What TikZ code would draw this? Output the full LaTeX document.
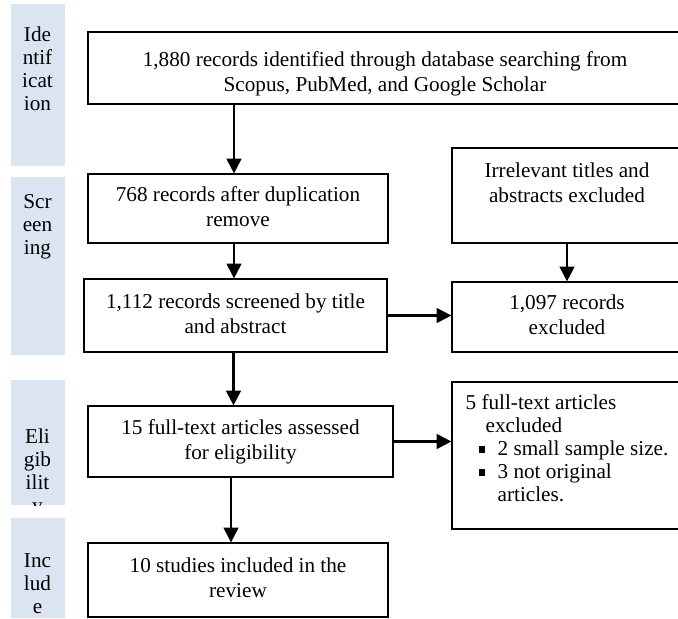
\documentclass[tikz,border=0pt]{standalone}
\usepackage{fontspec}
\setmainfont{Liberation Serif}
\usetikzlibrary{arrows.meta}
\definecolor{barblue}{HTML}{DBE5F1}
\newcommand\fsm{\fontsize{15.9}{18.75}\selectfont}
\newcommand\fsn{\fontsize{15.9}{17.25}\selectfont}
\newcommand\bul{\rule[2pt]{5pt}{5pt}}
\tikzset{
  box/.style={draw=black, line width=0.9pt, align=center, inner sep=0pt, font=\fsm},
  arr/.style={line width=1.6pt, -{Triangle[length=11pt,width=11pt]}},
  bar/.style={fill=barblue, draw=none, inner sep=0pt},
  bartext/.style={align=center, anchor=north, inner sep=0pt, font=\fsn},
}
\begin{document}
\begin{tikzpicture}[x=0.75pt,y=-0.75pt]
\useasboundingbox (0,0) rectangle (678,618);
\clip (0,0) rectangle (678,618);
% side bars
\node[bar, minimum width=40.5pt, minimum height=121.5pt] (b1) at (37.5,85) {};
\node[bar, minimum width=40.5pt, minimum height=133.5pt] (b2) at (37.5,266) {};
\node[bar, minimum width=40.5pt, minimum height=93.75pt] (b3) at (37.5,442.5) {};
\node[bar, minimum width=40.5pt, minimum height=75pt] (b4) at (37.5,568) {};
\node[bartext] (t1) at (37.5,25.4) {\strut Ide\\ntif\\icat\\ion};
\node[bartext] (t2) at (37.5,192.4) {\strut Scr\\een\\ing};
\begin{scope}
\clip (b3.north west) rectangle (b3.south east);
\node[bartext] (t3) at (37.5,427.4) {\strut Eli\\gib\\ilit\\y};
\end{scope}
\node[bartext] (t4) at (37.5,551.4) {\strut Inc\\lud\\e};
% boxes
\node[box, minimum width=445.5pt, minimum height=54pt] (id) at (385,68)
  {\rule{0pt}{22.85pt}1,880 records identified through database searching from\\Scopus, PubMed, and Google Scholar\strut};
\node[box, minimum width=225pt, minimum height=51.75pt] (rem) at (238,208.5)
  {\strut 768 records after duplication\\remove\strut};
\node[box, minimum width=227.25pt, minimum height=54.75pt] (scr) at (235.5,315.5)
  {\strut 1,112 records screened by title\\and abstract\strut};
\node[box, minimum width=172.5pt, minimum height=71.25pt] (irr) at (567,195.5)
  {\strut Irrelevant titles and\\abstracts excluded\rule[-22.1pt]{0pt}{22.1pt}};
\node[box, minimum width=172.5pt, minimum height=52.5pt] (exc) at (567,317)
  {\strut 1,097 records\\excluded\strut};
\node[box, minimum width=228.75pt, minimum height=53.25pt] (elig) at (240.5,441.5)
  {\strut 15 full-text articles assessed\\for eligibility\strut};
\node[box, minimum width=172.5pt, minimum height=110.25pt, align=left, font=\fsn] (exc2) at (567,455.5)
  {\strut 5 full-text articles\\
   \hspace*{15pt}excluded\\
   \hspace*{9.75pt}\bul\hspace*{9.25pt}2 small sample size.\\
   \hspace*{9.75pt}\bul\hspace*{9.25pt}3 not original\\
   \hspace*{24pt}articles.\rule[-11.6pt]{0pt}{11.6pt}};
\node[box, minimum width=225pt, minimum height=55.5pt] (inc) at (238,580)
  {\strut 10 studies included in the\\review\strut};
% arrows
\draw[arr] (id.south -| rem.north) ++(-4,0) coordinate (c0) -- (c0 |- rem.north);
\draw[arr] (rem.south) ++(-4,0) coordinate (c3) -- (c3 |- scr.north);
\draw[arr] (scr.south -| elig.north) ++(-7,0) coordinate (c1) -- (c1 |- elig.north);
\draw[arr] (elig.south -| inc.north) ++(-7,0) coordinate (c2) -- (c2 |- inc.north);
\draw[arr] (scr.east) -- (exc.west |- scr.east);
\draw[arr] (irr.south) -- (exc.north);
\draw[arr] (elig.east) -- (exc2.west |- elig.east);
\end{tikzpicture}
\end{document}
